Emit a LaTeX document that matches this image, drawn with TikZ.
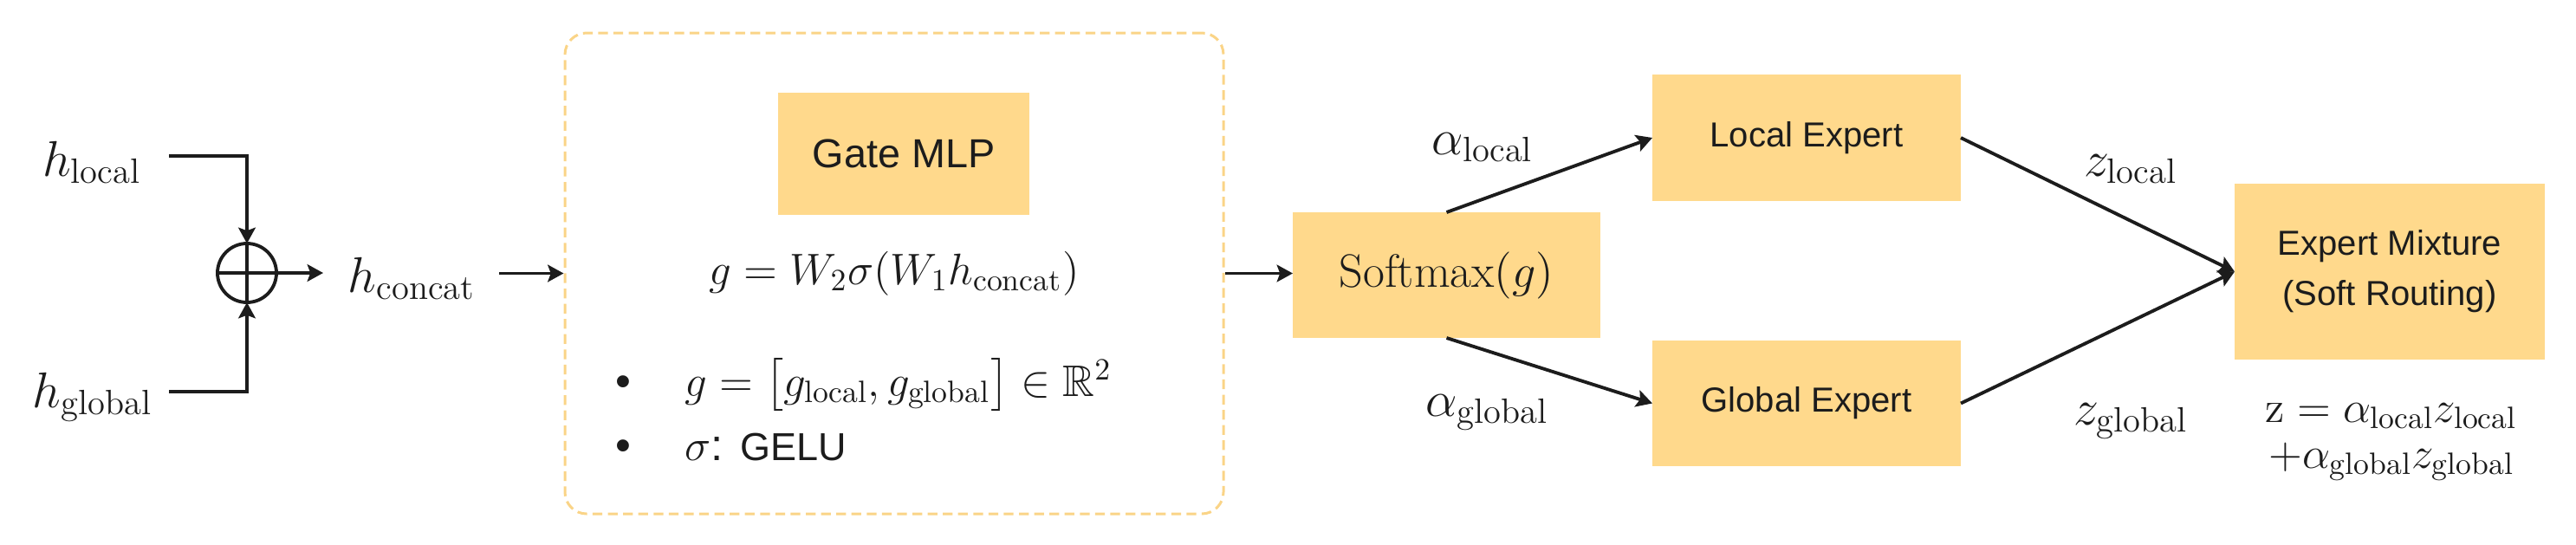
\RequirePackage{fix-cm}
\documentclass[tikz,border=0pt]{standalone}
\usepackage{amsmath,amssymb}
\usepackage{fontspec}
\setsansfont{Liberation Sans}
\usepackage{tikz}
\usetikzlibrary{arrows.meta,positioning,calc}
\definecolor{boxfill}{RGB}{255,217,140}
\definecolor{dashcol}{RGB}{250,212,135}
\definecolor{ink}{RGB}{28,28,28}

\begin{document}
\begin{tikzpicture}[>={Stealth[length=5.2pt,width=5.6pt,inset=1pt]}, line width=1.1pt, color=ink,
  box/.style={fill=boxfill, inner sep=0pt, outer sep=0pt, align=center, font=\sffamily\fontsize{11.4}{16.5}\selectfont},
  lbl/.style={inner sep=0pt, font=\fontsize{16.5}{19}\selectfont},
  eq/.style={inner sep=0pt, font=\fontsize{14.5}{17}\selectfont}]
\useasboundingbox (0,0) rectangle (29.73,6.28);
% inputs and concat
\node[lbl, anchor=base east] (hloc) at (1.65,4.25) {$h_{\mathrm{local}}$};
\node[lbl, anchor=base east] (hglob) at (1.78,1.58) {$h_{\mathrm{global}}$};
\node[draw, circle, minimum size=0.68cm, inner sep=0pt, outer sep=0pt] (plus) at (2.85,3.13) {};
\draw (plus.north) -- (plus.south) (plus.west) -- (plus.east);
\draw[->] ($(hloc.base east)+(0.30,0.23)$) -| (plus.north);
\draw[->] ($(hglob.base east)+(0.17,0.18)$) -| (plus.south);
\node[lbl, anchor=base west] (hcat) at (4.00,2.91) {$h_{\mathrm{concat}}$};
\draw[->] (plus.east) -- ($(hcat.base west)+(-0.27,0.22)$);
% gate
\node[draw=dashcol, line width=0.85pt, dash pattern=on 3.2pt off 1.8pt, rounded corners=0.25cm, minimum width=7.60cm, minimum height=5.55cm] (gate) at (10.32,3.125) {};
\node[box, minimum width=2.90cm, minimum height=1.41cm, font=\sffamily\fontsize{13.3}{16}\selectfont] (mlp) at (10.43,4.505) {Gate MLP};
\node[eq, anchor=base] (geq) at (10.32,3.00) {$g = W_2\sigma(W_1 h_{\mathrm{concat}})$};
\node[eq, anchor=base west] (b1) at (7.09,1.71) {\sffamily\textbullet\hspace{0.62cm}$g = \big[g_{\mathrm{local}}, g_{\mathrm{global}}\big] \in \mathbb{R}^2$};
\node[eq, anchor=base west] (b2) at (7.09,0.97) {\sffamily\textbullet\hspace{0.62cm}$\sigma$: {\fontsize{12.8}{15}\selectfont GELU}};
\draw[->] ($(hcat.base east)+(0.25,0.215)$) -- (gate.west);
% routing
\node[box, minimum width=3.55cm, minimum height=1.45cm, font=\fontsize{15.4}{18}\selectfont] (soft) at (16.695,3.105) {$\mathrm{Softmax}(g)$};
\draw[->] (gate.east) -- (gate.east -| soft.west);
\node[box, minimum width=3.56cm, minimum height=1.46cm] (locexp) at (20.85,4.69) {Local Expert};
\node[box, minimum width=3.56cm, minimum height=1.45cm] (globexp) at (20.85,1.625) {Global Expert};
\draw[->] (soft.north) -- (locexp.west);
\draw[->] (soft.south) -- (globexp.west);
\node[lbl, anchor=base] (aloc) at (17.11,4.50) {$\alpha_{\mathrm{local}}$};
\node[lbl, anchor=base] (aglob) at (17.16,1.48) {$\alpha_{\mathrm{global}}$};
% mixture
\node[box, minimum width=3.58cm, minimum height=2.03cm] (mix) at (27.58,3.145) {Expert Mixture\\(Soft Routing)};
\draw[->] (locexp.east) -- (mix.west);
\draw[->] (globexp.east) -- (mix.west);
\node[lbl, anchor=base] (zloc) at (24.59,4.25) {$z_{\mathrm{local}}$};
\node[lbl, anchor=base] (zglob) at (24.59,1.38) {$z_{\mathrm{global}}$};
\node[eq, anchor=base] (mixeq1) at (27.60,1.41) {$\mathrm{z} = \alpha_{\mathrm{local}} z_{\mathrm{local}}$};
\node[eq, anchor=base] (mixeq2) at (27.60,0.88) {$+\alpha_{\mathrm{global}} z_{\mathrm{global}}$};
\end{tikzpicture}
\end{document}
